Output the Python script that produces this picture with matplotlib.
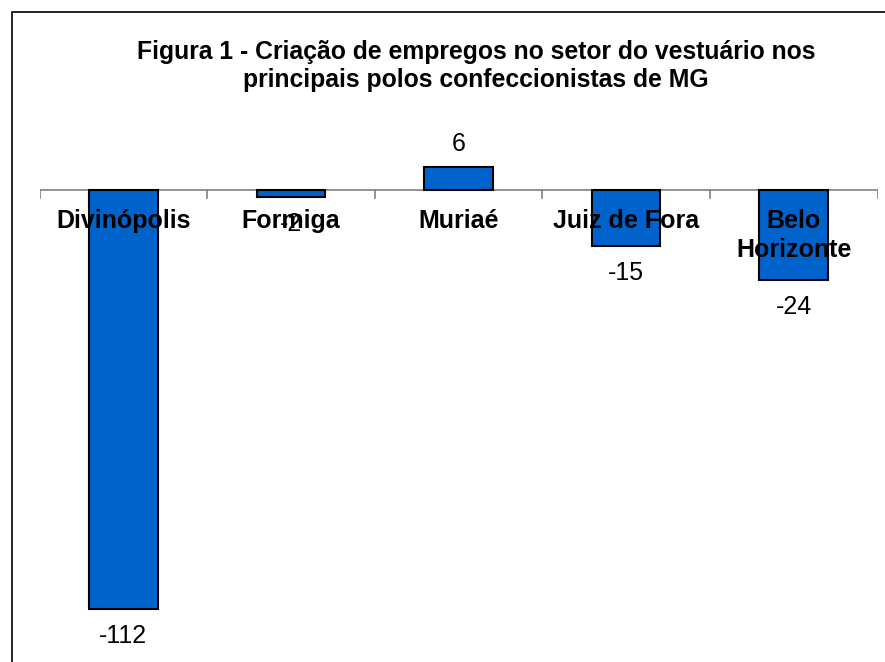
import matplotlib.pyplot as plt
from matplotlib.patches import Rectangle

# dados da figura
cidades = ['Divinópolis', 'Formiga', 'Muriaé', 'Juiz de Fora', 'Belo\nHorizonte']
saldo = [-112, -2, 6, -15, -24]

plt.rcParams['font.family'] = ['Liberation Sans', 'DejaVu Sans']

fig = plt.figure(figsize=(8.85, 6.62), dpi=100)
W, H = 885, 662

# area do grafico em pixels: x 39.5-877.5, y 130-650
ax = fig.add_axes([39.5 / W, 1 - 650 / H, (877.5 - 39.5) / W, (650 - 130) / H])

pos = range(len(cidades))
ax.bar(pos, saldo, width=0.41, color='#0063CC', edgecolor='black', linewidth=1.5, zorder=3)
ax.set_xlim(-0.5, len(cidades) - 0.5)
ax.set_ylim(-123, 16)

# eixo horizontal no zero com marcas entre categorias (para baixo)
ax.axhline(0, color='#808080', linewidth=1.2, zorder=2)
for i in range(len(cidades) + 1):
    ax.plot([i - 0.5, i - 0.5], [0, -2.2], color='#808080', linewidth=1.2, zorder=2)

for s in ax.spines.values():
    s.set_visible(False)
ax.set_xticks([])
ax.set_yticks([])

# nomes das cidades logo abaixo do eixo
for i, nome in enumerate(cidades):
    ax.annotate(nome, (i, 0), xytext=(0, -14), textcoords='offset points',
                ha='center', va='top', fontsize=18, fontweight='bold',
                linespacing=1.25, zorder=5)

# rotulos de valor
for i, v in enumerate(saldo):
    off = 17 if v > 0 else -19.5
    ax.annotate(str(v), (i, v), xytext=(0, off), textcoords='offset points',
                ha='center', va='center', fontsize=18, zorder=5)

fig.text(476 / W, 1 - 52 / H, 'Figura 1 - Criação de empregos no setor do vestuário nos',
         ha='center', va='center', fontsize=17.8, fontweight='bold')
fig.text(476 / W, 1 - 80 / H, 'principais polos confeccionistas de MG',
         ha='center', va='center', fontsize=17.8, fontweight='bold')

# moldura
fig.patches.append(Rectangle((12 / W, -0.1), 1, 1 - 12 / H + 0.1, transform=fig.transFigure,
                             fill=False, edgecolor='black', linewidth=1.2))

fig.savefig('out.png', dpi=100)
